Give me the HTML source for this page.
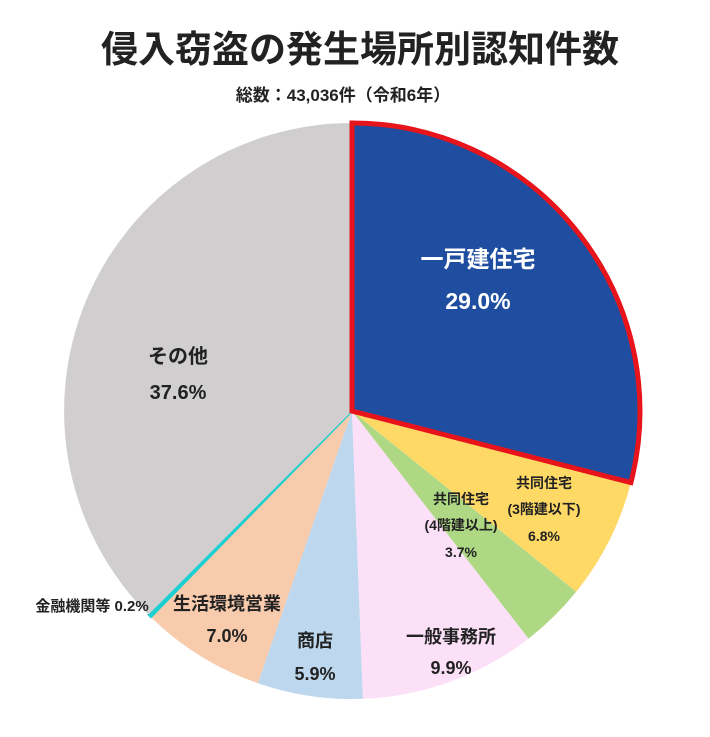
<!DOCTYPE html>
<html><head><meta charset="utf-8"><style>
html,body{margin:0;padding:0;background:#fff;}
svg text{font-family:"Liberation Sans","Noto Sans CJK JP",sans-serif;font-weight:bold;fill:#222;}
</style></head><body>
<svg width="710" height="732" viewBox="0 0 710 732" xmlns="http://www.w3.org/2000/svg">
<text x="360" y="62" font-size="37" text-anchor="middle">侵入窃盗の発生場所別認知件数</text>
<text x="343" y="101" font-size="17" text-anchor="middle">総数：43,036件（令和6年）</text>
<g>
<path d="M352,411 L362.9,698.8 A288,288 0 0 1 257.9,683.2 Z" fill="#bdd7ee"/>
<path d="M352,411 L528.5,638.6 A288,288 0 0 1 362.9,698.8 Z" fill="#fce0f8"/>
<path d="M352,411 L576.2,591.8 A288,288 0 0 1 528.5,638.6 Z" fill="#aed884"/>
<path d="M352,411 L630.9,482.6 A288,288 0 0 1 576.2,591.8 Z" fill="#ffd966"/>
<path d="M352,411 L257.9,683.2 A288,288 0 0 1 150.9,617.2 Z" fill="#f8cbad"/>
<path d="M352,411 L150.9,617.2 A288,288 0 0 1 148.4,614.6 Z" fill="#1ccfd0" stroke="#1ccfd0" stroke-width="2"/>
<path d="M352,411 L148.4,614.6 A288,288 0 0 1 352,123 Z" fill="#d0cece"/>
<path d="M352,411 L352,123 A288,288 0 0 1 630.9,482.6 Z" fill="#1f4ea0" stroke="#e8141c" stroke-width="5" stroke-linejoin="miter"/>
</g>
<text x="478" y="267" font-size="23" style="fill:#fff" text-anchor="middle">一戸建住宅</text>
<text x="478" y="309" font-size="23" style="fill:#fff" text-anchor="middle">29.0%</text>
<text x="178" y="363" font-size="20" text-anchor="middle">その他</text>
<text x="178" y="399" font-size="20" text-anchor="middle">37.6%</text>
<text x="544" y="488" font-size="14" text-anchor="middle">共同住宅</text>
<text x="544" y="514" font-size="14" text-anchor="middle">(3階建以下)</text>
<text x="544" y="541" font-size="14" text-anchor="middle">6.8%</text>
<text x="461" y="504" font-size="14" text-anchor="middle">共同住宅</text>
<text x="461" y="530" font-size="14" text-anchor="middle">(4階建以上)</text>
<text x="461" y="557" font-size="14" text-anchor="middle">3.7%</text>
<text x="451" y="643" font-size="18" text-anchor="middle">一般事務所</text>
<text x="451" y="674" font-size="18" text-anchor="middle">9.9%</text>
<text x="315" y="647" font-size="18" text-anchor="middle">商店</text>
<text x="315" y="680" font-size="18" text-anchor="middle">5.9%</text>
<text x="227" y="610" font-size="18" text-anchor="middle">生活環境営業</text>
<text x="227" y="642" font-size="18" text-anchor="middle">7.0%</text>
<text x="92" y="611" font-size="15" text-anchor="middle">金融機関等 0.2%</text>
</svg>
</body></html>
